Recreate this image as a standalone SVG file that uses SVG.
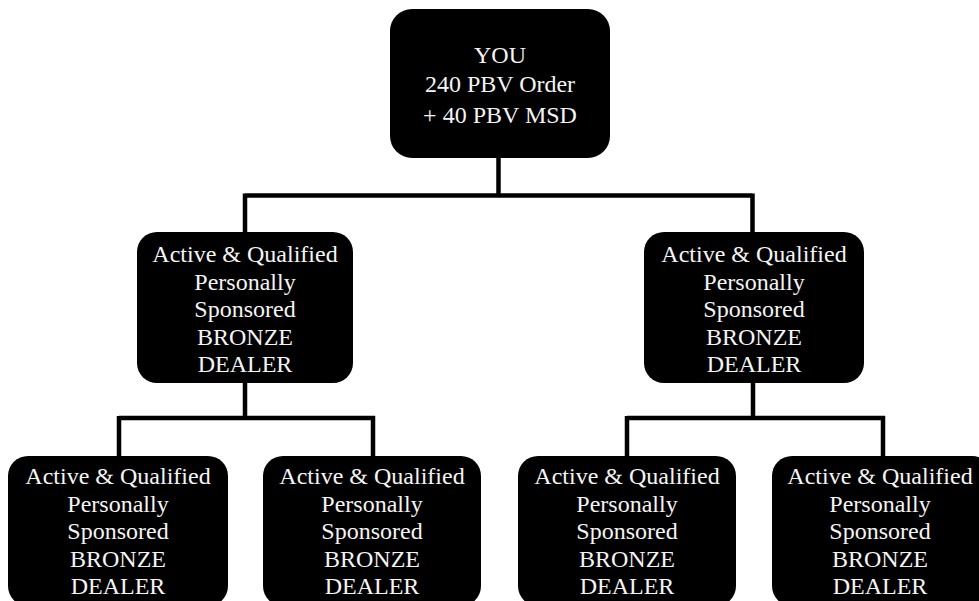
<svg xmlns="http://www.w3.org/2000/svg" width="979" height="601" viewBox="0 0 979 601" font-family="Liberation Serif, DejaVu Serif, serif">
<style>
.box{fill:#000}
.t{fill:#f4f4f4;font-size:24px;text-anchor:middle}
.c{fill:none;stroke:#000;stroke-width:4.5}
</style>
<rect width="979" height="601" fill="#fff"/>
<g id="connectors">
<path class="c" d="M498.5,158 V195.5 M245,195.5 H752.5 M245,193.5 V232 M752.5,193.5 V232"/>
<path class="c" d="M245,383 V418 M119,418 H375 M119,416 V456 M373,416 V456"/>
<path class="c" d="M753,383 V418 M627,418 H885 M627,416 V456 M883,416 V456"/>
</g>
<g id="you">
<rect class="box" x="390" y="9" width="220" height="149" rx="22"/>
<text class="t" x="500" y="63" font-family="Liberation Serif, serif">YOU</text>
<text class="t" x="500" y="92" font-family="Liberation Serif, serif">240 PBV Order</text>
<text class="t" x="500" y="123" font-family="Liberation Serif, serif">+ 40 PBV MSD</text>
</g>
<g id="mid-left" font-family="Liberation Serif, serif">
<rect class="box" x="137" y="232" width="216" height="151" rx="20"/>
<text class="t" x="245"><tspan x="245" y="262">Active &amp; Qualified</tspan><tspan x="245" y="289.5">Personally</tspan><tspan x="245" y="317">Sponsored</tspan><tspan x="245" y="344.5">BRONZE</tspan><tspan x="245" y="372">DEALER</tspan></text>
</g>
<g id="mid-right" font-family="Liberation Serif, serif">
<rect class="box" x="644" y="232" width="220" height="151" rx="20"/>
<text class="t" x="754"><tspan x="754" y="262">Active &amp; Qualified</tspan><tspan x="754" y="289.5">Personally</tspan><tspan x="754" y="317">Sponsored</tspan><tspan x="754" y="344.5">BRONZE</tspan><tspan x="754" y="372">DEALER</tspan></text>
</g>
<g id="bottom-1" font-family="Liberation Serif, serif">
<rect class="box" x="8" y="456" width="220" height="150" rx="20"/>
<text class="t" x="118"><tspan x="118" y="484">Active &amp; Qualified</tspan><tspan x="118" y="511.5">Personally</tspan><tspan x="118" y="539">Sponsored</tspan><tspan x="118" y="566.5">BRONZE</tspan><tspan x="118" y="594">DEALER</tspan></text>
</g>
<g id="bottom-2" font-family="Liberation Serif, serif">
<rect class="box" x="263" y="456" width="218" height="150" rx="20"/>
<text class="t" x="372"><tspan x="372" y="484">Active &amp; Qualified</tspan><tspan x="372" y="511.5">Personally</tspan><tspan x="372" y="539">Sponsored</tspan><tspan x="372" y="566.5">BRONZE</tspan><tspan x="372" y="594">DEALER</tspan></text>
</g>
<g id="bottom-3" font-family="Liberation Serif, serif">
<rect class="box" x="518" y="456" width="218" height="150" rx="20"/>
<text class="t" x="627"><tspan x="627" y="484">Active &amp; Qualified</tspan><tspan x="627" y="511.5">Personally</tspan><tspan x="627" y="539">Sponsored</tspan><tspan x="627" y="566.5">BRONZE</tspan><tspan x="627" y="594">DEALER</tspan></text>
</g>
<g id="bottom-4" font-family="Liberation Serif, serif">
<rect class="box" x="772" y="456" width="220" height="150" rx="20"/>
<text class="t" x="880"><tspan x="880" y="484">Active &amp; Qualified</tspan><tspan x="880" y="511.5">Personally</tspan><tspan x="880" y="539">Sponsored</tspan><tspan x="880" y="566.5">BRONZE</tspan><tspan x="880" y="594">DEALER</tspan></text>
</g>
</svg>
